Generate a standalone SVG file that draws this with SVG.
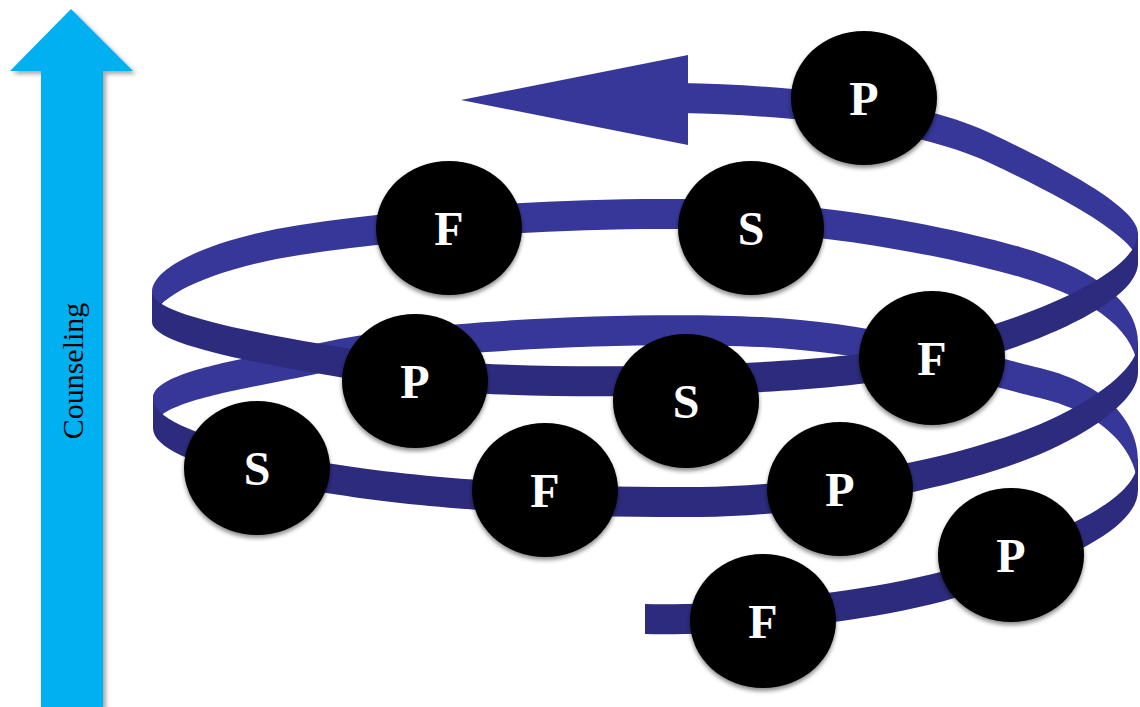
<svg xmlns="http://www.w3.org/2000/svg" width="1140" height="707" viewBox="0 0 1140 707">
  <defs>
    <filter id="sh" x="-20%" y="-20%" width="140%" height="150%">
      <feDropShadow dx="0" dy="3" stdDeviation="2" flood-color="#000" flood-opacity="0.45"/>
    </filter>
    <filter id="ash" x="-20%" y="-5%" width="150%" height="110%">
      <feDropShadow dx="3" dy="3" stdDeviation="2" flood-color="#000" flood-opacity="0.35"/>
    </filter>
  </defs>
  <style>
    .back { fill: #363798; }
    .front { fill: #2c2b7d; }
    .node ellipse { fill: #000; filter: url(#sh); }
    .node text { font-weight: bold; font-size: 48px; fill: #fff; text-anchor: middle; }
    .axis-label { font-size: 30px; fill: #000; text-anchor: middle; }
  </style>
  <rect width="1140" height="707" fill="#fff"/>

  <g id="counseling-arrow">
    <polygon points="71,9 133,71 103,71 103,707 41,707 41,71 10,71" fill="#00b0f0" filter="url(#ash)"/>
    <text class="axis-label" font-family="Liberation Serif, serif" transform="translate(83,371) rotate(-90)">Counseling</text>
  </g>

  <g id="connectors">
    <path class="back" d="M 1138 460 C 1138 425, 1110 385, 1040 368 C 985 355, 880 323, 760 317 C 640 311, 420 320, 320 343 C 260 357, 153 370, 153 398 L 153 428 C 153 400, 260 387, 320 373 C 420 350, 640 341, 760 347 C 880 353, 985 385, 1040 398 C 1110 415, 1138 455, 1138 490 Z"/>
    <path class="back" d="M 1138 343 C 1138 305, 1100 270, 1020 247 C 950 227, 820 200, 680 199 C 560 198, 420 207, 300 225 C 220 237, 152 265, 152 292 L 152 322 C 152 295, 220 267, 300 255 C 420 237, 560 228, 680 229 C 820 230, 950 257, 1020 277 C 1100 300, 1138 335, 1138 373 Z"/>
    <path class="back" d="M 1138 233 C 1138 213, 1090 180, 990 133 C 920 100, 800 85, 680 83 L 680 113 C 800 115, 920 130, 990 163 C 1090 210, 1138 243, 1138 263 Z"/>
    <polygon class="back" points="688,55 461,100 688,145"/>
    <path class="front" d="M 645 604 C 720 606, 880 595, 980 560 C 1060 532, 1138 500, 1138 460 L 1138 490 C 1138 530, 1060 562, 980 590 C 880 625, 720 636, 645 634 Z"/>
    <path class="front" d="M 153 398 C 153 425, 230 447, 340 465 C 420 478, 560 488, 700 487 C 820 486, 980 455, 1060 415 C 1105 393, 1138 365, 1138 343 L 1138 373 C 1138 395, 1105 423, 1060 445 C 980 485, 820 516, 700 517 C 560 518, 420 508, 340 495 C 230 477, 153 455, 153 428 Z"/>
    <path class="front" d="M 152 292 C 152 315, 260 335, 400 357 C 500 371, 780 370, 900 348 C 990 333, 1138 280, 1138 233 L 1138 263 C 1138 310, 990 363, 900 378 C 780 400, 500 401, 400 387 C 260 365, 152 345, 152 322 Z"/>
  </g>

  <g font-family="Liberation Serif, serif">
    <g id="node-p1" class="node"><ellipse cx="864" cy="98" rx="73" ry="67"/><text x="864" y="115">P</text></g>
    <g id="node-f1" class="node"><ellipse cx="449" cy="228" rx="73" ry="67"/><text x="449" y="245">F</text></g>
    <g id="node-s1" class="node"><ellipse cx="751" cy="228" rx="73" ry="67"/><text x="751" y="245">S</text></g>
    <g id="node-p2" class="node"><ellipse cx="415" cy="381" rx="73" ry="67"/><text x="415" y="398">P</text></g>
    <g id="node-s2" class="node"><ellipse cx="686" cy="401" rx="73" ry="67"/><text x="686" y="418">S</text></g>
    <g id="node-f2" class="node"><ellipse cx="932" cy="358" rx="73" ry="67"/><text x="932" y="375">F</text></g>
    <g id="node-s3" class="node"><ellipse cx="257" cy="468" rx="73" ry="67"/><text x="257" y="485">S</text></g>
    <g id="node-f3" class="node"><ellipse cx="545" cy="490" rx="73" ry="67"/><text x="545" y="507">F</text></g>
    <g id="node-p3" class="node"><ellipse cx="840" cy="489" rx="73" ry="67"/><text x="840" y="506">P</text></g>
    <g id="node-p4" class="node"><ellipse cx="1011" cy="555" rx="73" ry="67"/><text x="1011" y="572">P</text></g>
    <g id="node-f4" class="node"><ellipse cx="763" cy="621" rx="73" ry="67"/><text x="763" y="638">F</text></g>
  </g>
</svg>
